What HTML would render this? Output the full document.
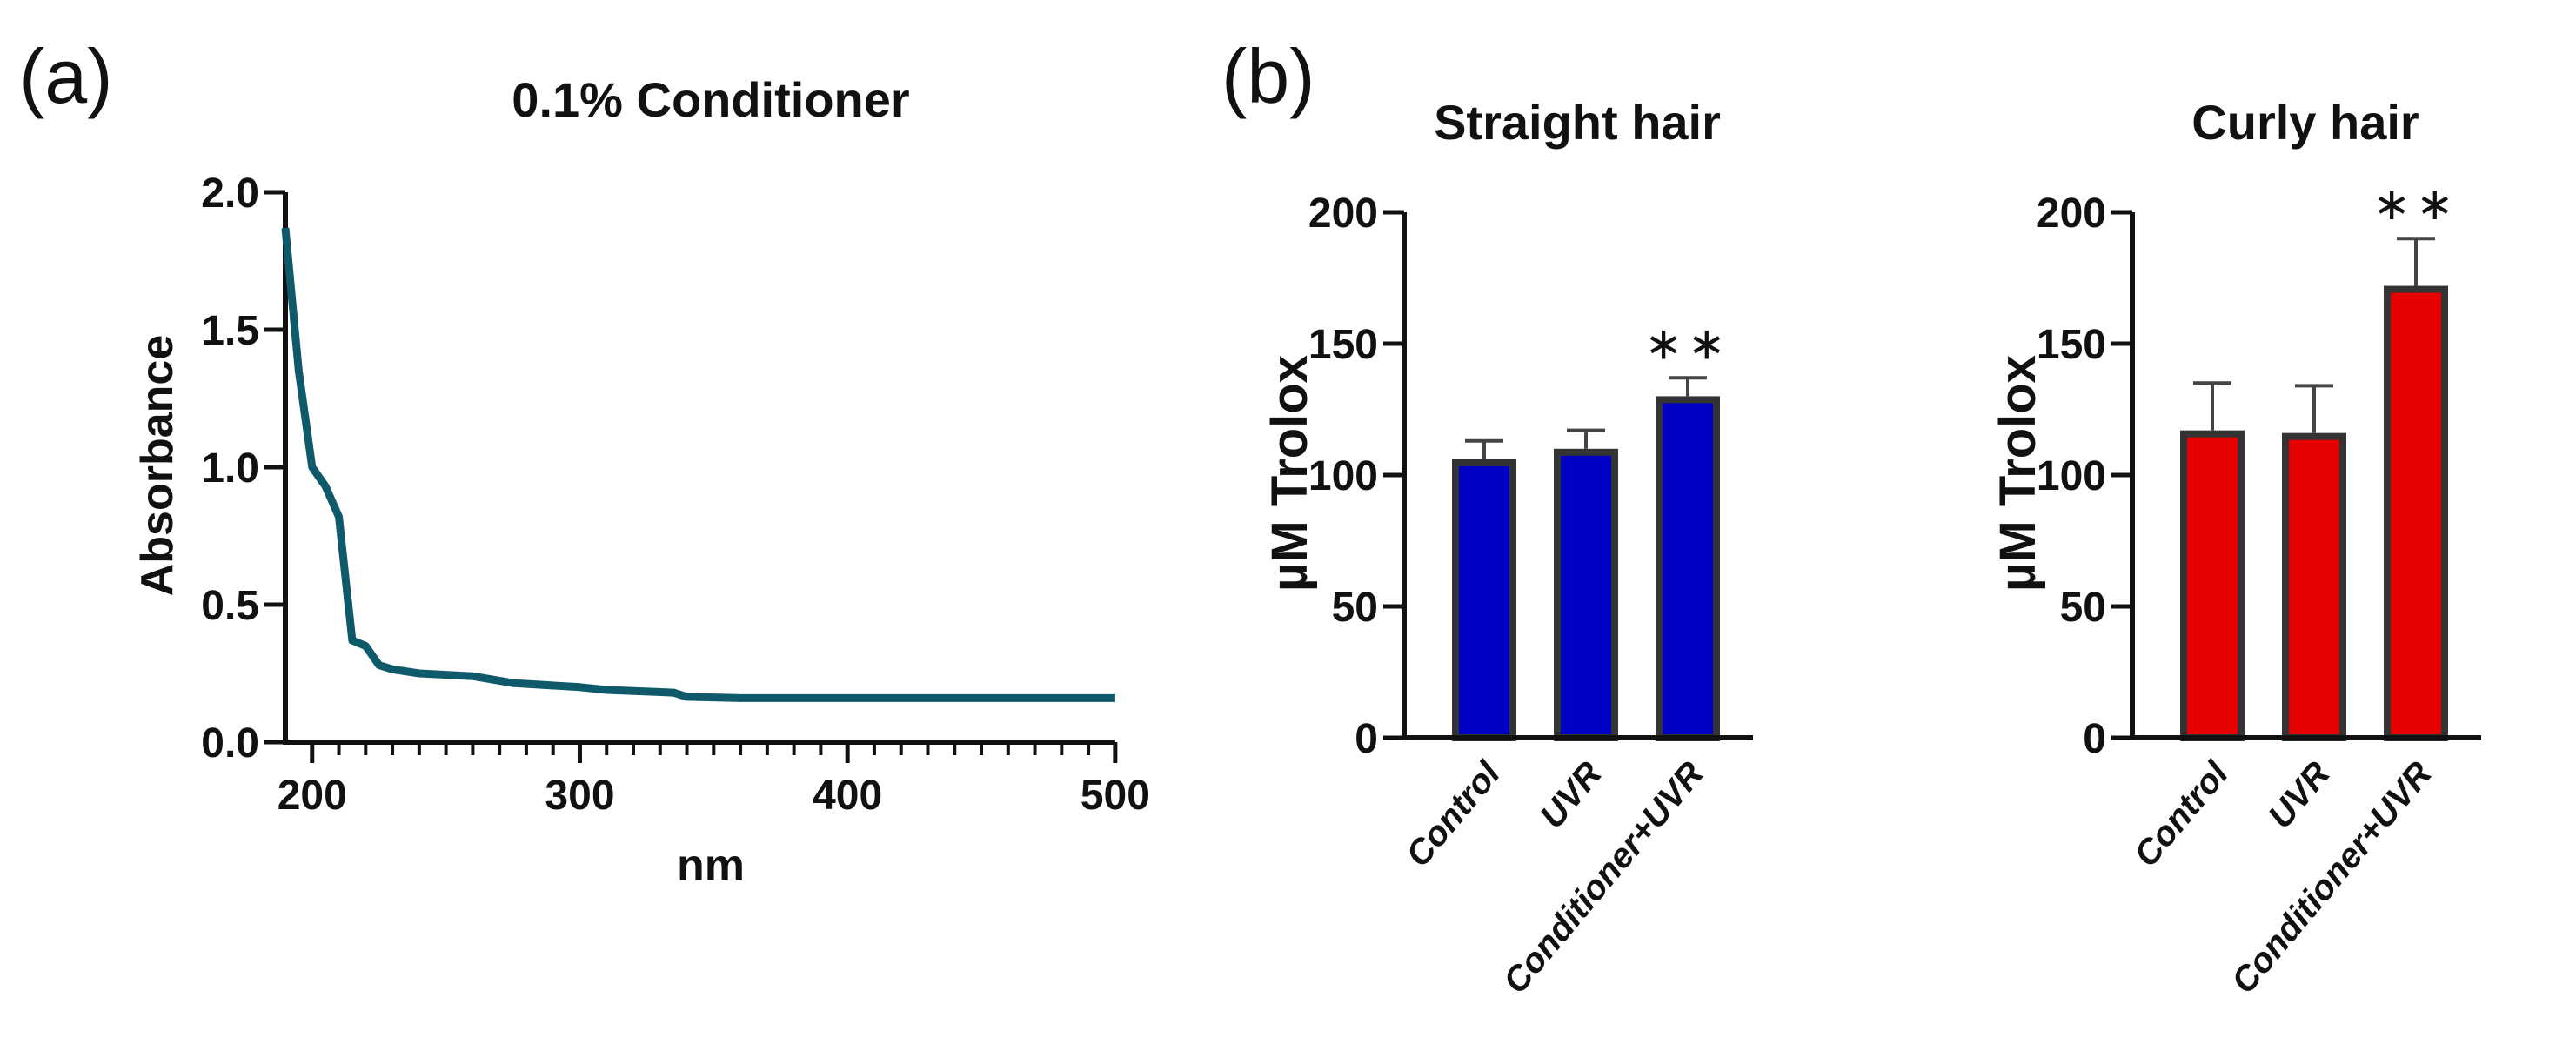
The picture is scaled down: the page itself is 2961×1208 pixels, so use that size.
<!DOCTYPE html>
<html><head><meta charset="utf-8"><style>
html,body{margin:0;padding:0;background:#fff;}
svg{display:block;font-family:"Liberation Sans",Arial,sans-serif;}
</style></head><body>
<svg id="fig" width="2961" height="1208" viewBox="0 0 2961 1208">
<text x="22" y="118" font-size="88" fill="#111">(a)</text>
<text x="1404" y="118" font-size="88" fill="#111">(b)</text>
<g id="pa"></g>
<g id="pb1"></g>
<g id="pb2"></g>
</svg>
<script>
const wavelengths=[190,195,200,205,210,215,220,225,230,240,260,275,300,310,335,340,360,500];
const absorbance=[1.87,1.35,1.0,0.93,0.82,0.37,0.35,0.28,0.265,0.25,0.24,0.215,0.2,0.19,0.18,0.165,0.16,0.16];
const absTicks=[0,0.5,1.0,1.5,2.0];
const absTickLabels=["0.0","0.5","1.0","1.5","2.0"];
const nmTicks=[200,300,400,500];
const categories=["Control","UVR","Conditioner+UVR"];
const straightValues=[106,110,130];
const straightErrors=[7,7,7];
const curlyValues=[117,116,172];
const curlyErrors=[18,18,18];
const trTicks=[0,50,100,150,200];
const straightSig=["","","**"];
const curlySig=["","","**"];

const NS="http://www.w3.org/2000/svg";
function mk(parent,tag,attrs,text){const e=document.createElementNS(NS,tag);for(const k in attrs)e.setAttribute(k,attrs[k]);if(text!==undefined)e.textContent=text;parent.appendChild(e);return e;}

(function(){
const g=document.getElementById('pa');
const x0=328,y0=853,yTop=221;
const X=v=>x0+(v-190)*3.077;
const Y=v=>y0-(v/2)*(y0-yTop);
let t=mk(g,'text',{x:817,y:134,'font-size':56,'font-weight':'bold','text-anchor':'middle',fill:'#111'},'0.1% Conditioner');


let ax=mk(g,'path',{d:`M${X(190)} ${Y(2)} V${y0} H${X(500)}`,stroke:'#111','stroke-width':6,fill:'none'});


absTicks.forEach((v,i)=>{
 const tk=mk(g,'line',{x1:x0-24,x2:x0,y1:Y(v),y2:Y(v),stroke:'#111','stroke-width':5});
 
 
 const l=mk(g,'text',{x:x0-30,y:Y(v)+17,'font-size':48,'font-weight':'bold','text-anchor':'end',fill:'#111'},absTickLabels[i]);
 
 
});
for(let v=200;v<=500;v+=10){
 const major=v%100===0;
 const tk=mk(g,'line',{x1:X(v),x2:X(v),y1:y0,y2:y0+(major?24:15),stroke:'#111','stroke-width':major?5:4});
 
 
}
nmTicks.forEach(v=>{
 const l=mk(g,'text',{x:X(v),y:930,'font-size':48,'font-weight':'bold','text-anchor':'middle',fill:'#111'},String(v));
 
 
});
let xt=mk(g,'text',{x:817,y:1012,'font-size':52,'font-weight':'bold','text-anchor':'middle',fill:'#111'},'nm');


let yt=mk(g,'text',{x:0,y:0,'font-size':52,'font-weight':'bold','text-anchor':'middle',fill:'#111',transform:`translate(198,535) rotate(-90)`},'Absorbance');


const d=wavelengths.map((w,i)=>(i?'L':'M')+X(w).toFixed(1)+' '+Y(absorbance[i]).toFixed(1)).join(' ');
let ln=mk(g,'path',{d:d,stroke:'#0e5a6b','stroke-width':9,fill:'none','stroke-linejoin':'round'});


})();

function barChart(g,ax,title,values,errors,sig,color){
const y0=848,yTop=244,x1=ax+401;
const Y=v=>y0-(v/200)*(y0-yTop);
const slot=117,bw=74,first=ax+55;
let t=mk(g,'text',{x:ax+199,y:160,'font-size':56,'font-weight':'bold','text-anchor':'middle',fill:'#111'},title);


values.forEach((v,i)=>{
 const bx=first+i*slot;
 const eb=mk(g,'path',{d:`M${bx+bw/2} ${Y(v)} V${Y(v+errors[i])} M${bx+bw/2-22} ${Y(v+errors[i])} H${bx+bw/2+22}`,stroke:'#444','stroke-width':4,fill:'none'});
 
 
 const r=mk(g,'rect',{x:bx+4,y:Y(v)+4,width:bw-8,height:y0-Y(v)-4,fill:color,stroke:'#333','stroke-width':8});
 
 
 if(sig[i]){
  const s=mk(g,'text',{x:bx+bw/2,y:Y(v+errors[i])-22,'font-size':52,'text-anchor':'middle',fill:'#111','letter-spacing':6},'\u2217\u2217');
  
  
 }
 const cl=mk(g,'text',{x:0,y:0,'font-size':40,'font-weight':'bold','font-style':'italic','text-anchor':'end',fill:'#111',transform:`translate(${bx+bw/2+20},${y0+42}) rotate(-50)`},categories[i]);
 
 
});
let a=mk(g,'path',{d:`M${ax} ${yTop} V${y0} H${x1}`,stroke:'#111','stroke-width':6,fill:'none'});


trTicks.forEach(v=>{
 const tk=mk(g,'line',{x1:ax-24,x2:ax,y1:Y(v),y2:Y(v),stroke:'#111','stroke-width':5});
 
 
 const l=mk(g,'text',{x:ax-30,y:Y(v)+17,'font-size':48,'font-weight':'bold','text-anchor':'end',fill:'#111'},String(v));
 
 
});
let yt=mk(g,'text',{x:0,y:0,'font-size':58,'font-weight':'bold','text-anchor':'middle',fill:'#111',transform:`translate(${ax-112},544) rotate(-90)`},'\u00b5M Trolox');


}
barChart(document.getElementById('pb1'),1614,'Straight hair',straightValues,straightErrors,straightSig,'#0000c4');
barChart(document.getElementById('pb2'),2451,'Curly hair',curlyValues,curlyErrors,curlySig,'#e60000');
</script>
</body></html>
